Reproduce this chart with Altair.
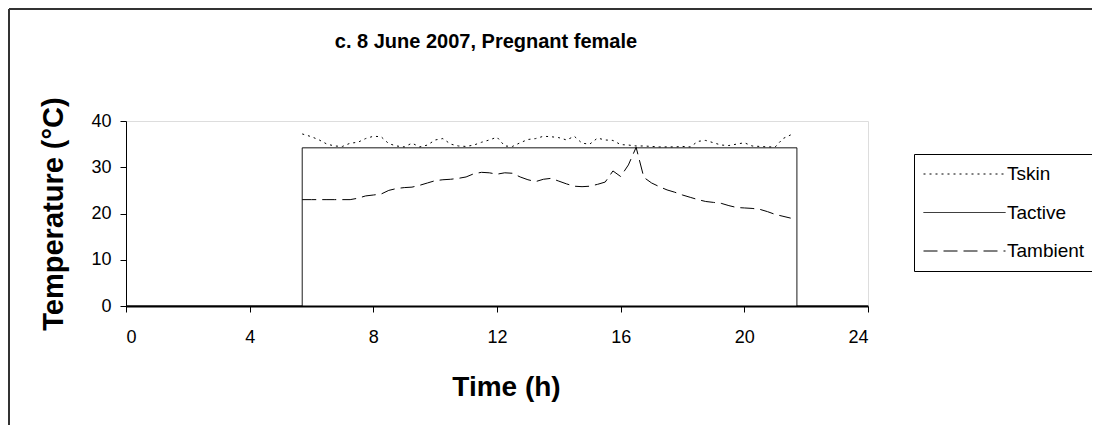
import altair as alt
import pandas as pd

# ---- data ----
chart_title = "c. 8 June 2007, Pregnant female"
series_names = ["Tskin", "Tactive", "Tambient"]

hours = [5.7, 6.0, 6.25, 6.5, 6.75, 7.0, 7.25, 7.5, 7.75, 8.0, 8.25, 8.5, 8.75,
         9.0, 9.25, 9.5, 9.75, 10.0, 10.25, 10.5, 10.75, 11.0, 11.25, 11.5, 11.75,
         12.0, 12.25, 12.5, 12.75, 13.0, 13.25, 13.5, 13.75, 14.0, 14.25, 14.5, 14.75,
         15.0, 15.25, 15.5, 15.75, 16.0, 16.25, 16.5, 16.75, 17.0, 17.25, 17.5, 17.75,
         18.0, 18.25, 18.5, 18.75, 19.0, 19.25, 19.5, 19.75, 20.0, 20.25, 20.5, 20.75,
         21.0, 21.25, 21.5]

t_skin = [37.2, 36.6, 35.9, 35.0, 34.6, 34.5, 35.2, 35.4, 36.2, 36.7, 36.6, 35.1, 34.6,
          34.4, 35.2, 34.4, 34.8, 35.9, 36.2, 35.0, 34.6, 34.5, 34.8, 35.4, 35.9,
          36.5, 34.6, 34.5, 35.3, 36.0, 36.2, 36.7, 36.6, 36.4, 35.9, 36.7, 35.2,
          35.0, 36.3, 35.9, 35.8, 34.9, 34.8, 34.6, 34.6, 34.5, 34.4, 34.4, 34.4,
          34.5, 34.4, 35.6, 35.8, 35.3, 34.8, 34.7, 35.0, 35.3, 34.6, 34.5, 34.4,
          34.4, 36.2, 37.0]

t_ambient = [23.0, 23.0, 23.0, 23.0, 23.0, 23.0, 23.0, 23.3, 23.8, 24.0, 24.2, 25.0, 25.4,
             25.6, 25.7, 26.1, 26.6, 27.1, 27.3, 27.4, 27.6, 27.9, 28.6, 28.9, 28.8,
             28.5, 28.8, 28.7, 27.9, 27.3, 26.9, 27.4, 27.6, 27.0, 26.4, 25.9, 25.8,
             25.9, 26.3, 26.8, 29.2, 28.0, 30.5, 34.3, 27.8, 26.6, 25.8, 25.1, 24.6,
             24.0, 23.5, 23.0, 22.6, 22.4, 22.2, 21.7, 21.3, 21.2, 21.1, 20.9, 20.4,
             19.8, 19.4, 19.0]

active_hours = [0, 5.7, 5.7, 21.7, 21.7, 24]
t_active = [0, 0, 34.2, 34.2, 0, 0]

x_ticks = [0, 4, 8, 12, 16, 20, 24]
y_ticks = [0, 10, 20, 30, 40]

# ---- build long table ----
rows = []
for i, (h, v) in enumerate(zip(hours, t_skin)):
    rows.append({"series": "Tskin", "hour": h, "temp": v, "order": i})
for i, (h, v) in enumerate(zip(active_hours, t_active)):
    rows.append({"series": "Tactive", "hour": h, "temp": v, "order": i})
for i, (h, v) in enumerate(zip(hours, t_ambient)):
    rows.append({"series": "Tambient", "hour": h, "temp": v, "order": i})
df = pd.DataFrame(rows)

FONT = "Liberation Sans"

dash_scale = alt.Scale(domain=series_names, range=[[2, 4], [1, 0], [14, 6]])

lines = alt.Chart(df).mark_line(color="black", strokeWidth=1).encode(
    x=alt.X("hour:Q", scale=alt.Scale(domain=[0, 24], nice=False),
            axis=alt.Axis(values=x_ticks, title="Time (h)", grid=False,
                          domainWidth=2, domainColor="black",
                          tickColor="black", tickSize=6,
                          labelFontSize=18, labelPadding=16, labelColor="black",
                          labelFont=FONT,
                          titleFont=FONT, titleFontSize=28, titleFontWeight="bold",
                          titlePadding=27, titleColor="black", titleX=380)),
    y=alt.Y("temp:Q", scale=alt.Scale(domain=[0, 40], nice=False),
            axis=alt.Axis(values=y_ticks, title="Temperature (°C)", grid=False,
                          domainColor="black", tickColor="black", tickSize=6,
                          labelFontSize=18, labelPadding=9, labelColor="black",
                          labelFont=FONT,
                          titleFont=FONT, titleFontSize=29, titleFontWeight="bold",
                          titlePadding=22, titleColor="black")),
    strokeDash=alt.StrokeDash("series:N", scale=dash_scale,
                              legend=alt.Legend(title=None, orient="none",
                                                legendX=788, legendY=33,
                                                symbolType="stroke", symbolSize=6724,
                                                symbolStrokeWidth=1,
                                                symbolStrokeColor="black",
                                                labelFont=FONT, labelFontSize=19,
                                                labelColor="black", labelOffset=1,
                                                strokeColor="black", fillColor="white",
                                                padding=9, rowPadding=16.5,
                                                clipHeight=22)),
    detail="series:N",
    order="order:Q",
)

title_layer = alt.Chart(pd.DataFrame({"t": [chart_title]})).mark_text(
    font=FONT, fontSize=20, fontWeight="bold", color="black",
    align="center", baseline="middle"
).encode(text="t:N", x=alt.value(360), y=alt.value(-79))

one = pd.DataFrame({"k": [0]})
frame_top = alt.Chart(one).mark_rule(color="#333333", strokeWidth=2).encode(
    x=alt.value(-117), x2=alt.value(1300), y=alt.value(-112))
frame_left = alt.Chart(one).mark_rule(color="#333333", strokeWidth=2).encode(
    x=alt.value(-117), y=alt.value(-112), y2=alt.value(700))

chart = alt.layer(frame_top, frame_left, title_layer, lines).properties(
    width=742, height=185,
    autosize=alt.AutoSizeParams(type="none"),
    padding={"left": 118, "top": 113, "right": 224, "bottom": 119},
).configure_view(stroke="black", strokeWidth=1).configure(background="white")

chart.save("out.html", embed_options={"renderer": "svg", "actions": False})
